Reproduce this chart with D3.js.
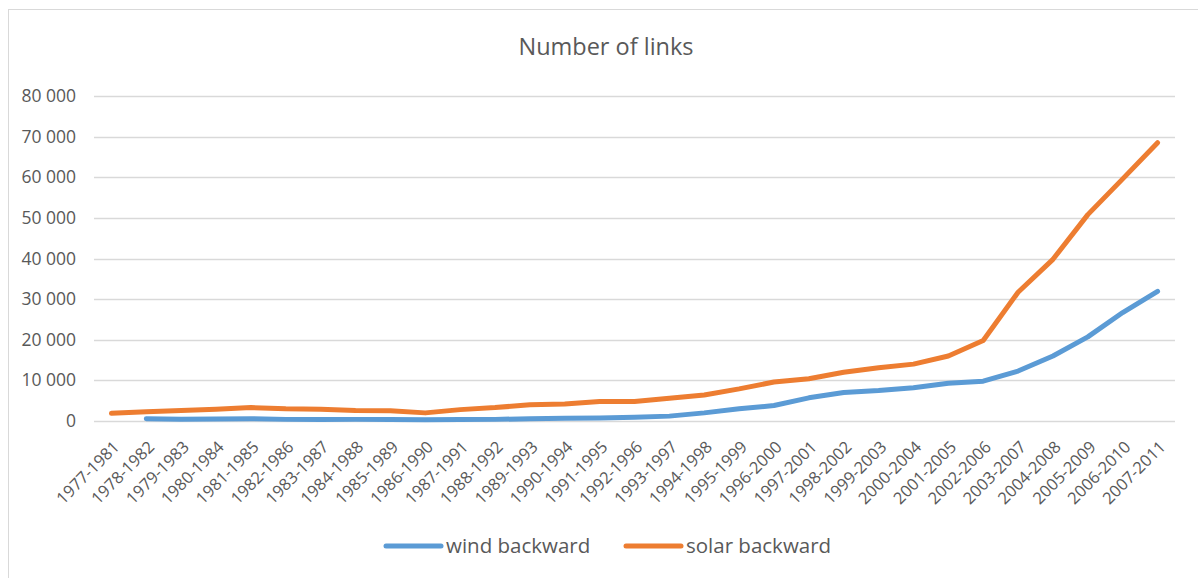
<!DOCTYPE html>
<html><head><meta charset="utf-8">
<script src="https://cdn.jsdelivr.net/npm/d3@7"></script>
<style>
html,body{margin:0;padding:0;background:#fff;}
svg{display:block;font-family:"Open Sans",sans-serif;}
</style></head>
<body><svg id="c" width="1198" height="578"></svg>
<script>
const categories = ["1977-1981","1978-1982","1979-1983","1980-1984","1981-1985","1982-1986","1983-1987","1984-1988","1985-1989","1986-1990","1987-1991","1988-1992","1989-1993","1990-1994","1991-1995","1992-1996","1993-1997","1994-1998","1995-1999","1996-2000","1997-2001","1998-2002","1999-2003","2000-2004","2001-2005","2002-2006","2003-2007","2004-2008","2005-2009","2006-2010","2007-2011"];
const windBackward = [null,550,450,500,550,400,350,400,350,300,350,400,550,650,750,900,1200,2000,3000,3800,5700,7000,7500,8200,9300,9800,12300,16000,20700,26700,31900];
const solarBackward = [1900,2300,2600,2900,3300,3000,2900,2600,2500,2000,2800,3300,4000,4200,4800,4800,5600,6400,7900,9600,10400,12000,13100,14000,16000,19800,31700,39800,50800,59600,68500];
const yTicks = [0,10000,20000,30000,40000,50000,60000,70000,80000];
const seriesNames = ["wind backward","solar backward"];
const colors = ["#5B9BD5","#ED7D31"];

const svg = d3.select("#c");
const txt = "#595959";

svg.append("rect").attr("x",8.5).attr("y",9.5).attr("width",1300).attr("height",700)
  .attr("fill","none").attr("stroke","#d9d9d9").attr("stroke-width",1);

svg.append("text").attr("x",606).attr("y",55).attr("text-anchor","middle")
  .attr("font-size",23.5).attr("fill",txt).text("Number of links");

const x = d3.scaleBand().domain(categories).range([94,1175]);
const y = d3.scaleLinear().domain([0,80000]).range([421,96]);
const fmt = v => d3.format(",")(v).replace(/,/g," ");

// gridlines
svg.append("g").selectAll("line").data(yTicks).join("line")
  .attr("x1",94).attr("x2",1175).attr("y1",d=>Math.round(y(d))+0.5).attr("y2",d=>Math.round(y(d))+0.5)
  .attr("stroke","#d9d9d9").attr("stroke-width",1.3);

// y axis labels
const yAxis = d3.axisLeft(y).tickValues(yTicks).tickFormat(fmt).tickSize(0).tickPadding(0);
const gy = svg.append("g").attr("transform","translate(76,0)").call(yAxis);
gy.select(".domain").remove();
gy.selectAll("text").attr("font-size",17.5).attr("fill",txt).attr("font-family","Open Sans, sans-serif");

// x axis labels
const xAxis = d3.axisBottom(x).tickSize(0).tickPadding(0);
const gx = svg.append("g").attr("transform","translate(0,421)").call(xAxis);
gx.select(".domain").remove();
gx.selectAll("text").attr("font-size",16.5).attr("fill",txt).attr("font-family","Open Sans, sans-serif")
  .attr("text-anchor","end").attr("dy",0)
  .attr("transform","translate(9,27) rotate(-45)");

// lines
const data = [windBackward, solarBackward];
const line = d3.line().defined(d=>d!=null)
  .x((d,i)=>x(categories[i])+x.bandwidth()/2).y(d=>y(d));
svg.append("g").selectAll("path").data(data).join("path")
  .attr("d",line).attr("fill","none").attr("stroke",(d,i)=>colors[i])
  .attr("stroke-width",5).attr("stroke-linecap","round").attr("stroke-linejoin","round");

// legend
const legX = [386,626];
const lg = svg.append("g");
seriesNames.forEach((n,i)=>{
  lg.append("line").attr("x1",legX[i]).attr("x2",legX[i]+55).attr("y1",546).attr("y2",546)
    .attr("stroke",colors[i]).attr("stroke-width",5).attr("stroke-linecap","round");
  lg.append("text").attr("x",legX[i]+60).attr("y",553).attr("font-size",20.5).attr("fill",txt).text(n);
});
</script></body></html>
